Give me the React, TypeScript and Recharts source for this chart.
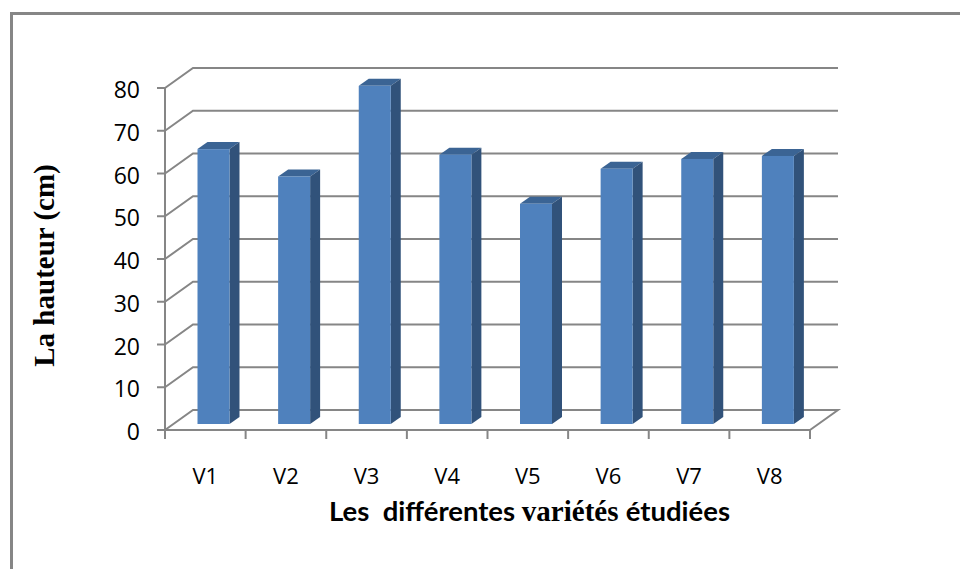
import { BarChart, Bar, XAxis, YAxis, CartesianGrid, Label } from 'recharts';

const categories = ['V1', 'V2', 'V3', 'V4', 'V5', 'V6', 'V7', 'V8'];
const hauteur = [64.3, 57.9, 79.1, 63, 51.5, 59.7, 62, 62.7];
const yTicks = [0, 10, 20, 30, 40, 50, 60, 70, 80];

const data = categories.map((name, i) => ({ name, hauteur: hauteur[i] }));

const WIDTH = 960;
const HEIGHT = 569;
const PLOT_LEFT = 165;
const PLOT_RIGHT = 810;
const PLOT_TOP = 88;
const PLOT_BOTTOM = 430;
const BAND = (PLOT_RIGHT - PLOT_LEFT) / categories.length;

// profondeur du mur du fond et position des barres dans cette profondeur
const WALL_DX = 28;
const WALL_DY = -20;
const BAR_SHIFT_X = 8.5;
const BAR_SHIFT_Y = -6;
const BAR_DX = 10;
const BAR_DY = -7;

const AXIS_COLOR = '#868686';

// ligne de grille: le long du mur de gauche puis du mur du fond
const renderGridLine = (props: any) => {
  const { x1, x2, y1, key } = props;
  const bx = x2 + WALL_DX;
  const by = y1 + WALL_DY;
  const isFloor = Math.abs(y1 - PLOT_BOTTOM) < 1;
  const points = [`${x1},${y1}`, `${x1 + WALL_DX},${by}`, `${bx},${by}`];
  if (isFloor) points.push(`${x2},${y1}`);
  return <polyline key={key} points={points.join(' ')} fill="none" stroke={AXIS_COLOR} strokeWidth={2} />;
};

// barre en 3D: face avant, dessus et côté
const Bar3D = (props: any) => {
  const { x, y, width, height } = props;
  const l = x + BAR_SHIFT_X;
  const t = y + BAR_SHIFT_Y;
  const r = l + width;
  const b = t + height;
  return (
    <g>
      <polygon
        points={`${l},${t} ${l + BAR_DX},${t + BAR_DY} ${r + BAR_DX},${t + BAR_DY} ${r},${t}`}
        fill="#3B6494"
      />
      <polygon
        points={`${r},${t} ${r + BAR_DX},${t + BAR_DY} ${r + BAR_DX},${b + BAR_DY} ${r},${b}`}
        fill="#31527A"
      />
      <rect x={l} y={t} width={width} height={height} fill="#4F81BD" />
    </g>
  );
};

const XTick = (props: any) => {
  const { x, y, payload, index } = props;
  const left = x - BAND / 2;
  return (
    <g>
      <line x1={left} y1={PLOT_BOTTOM} x2={left} y2={PLOT_BOTTOM + 9} stroke={AXIS_COLOR} strokeWidth={2} />
      {index === categories.length - 1 && (
        <line x1={x + BAND / 2} y1={PLOT_BOTTOM} x2={x + BAND / 2} y2={PLOT_BOTTOM + 9} stroke={AXIS_COLOR} strokeWidth={2} />
      )}
      <text x={x} y={y + 46} textAnchor="middle" fontFamily="Open Sans" fontSize={22} fill="#000">
        {payload.value}
      </text>
    </g>
  );
};

const XTitle = () => (
  <text x={329} y={521} fontFamily="Lato" fontWeight={700} fontSize={27.5} fill="#000" xmlSpace="preserve">
    <tspan>Les  différentes </tspan>
    <tspan fontFamily="Liberation Serif" fontSize={29}>variétés </tspan>
    <tspan>étudiées</tspan>
  </text>
);

const YTitle = () => (
  <text
    x={54}
    y={265.5}
    transform="rotate(-90 54 265.5)"
    textAnchor="middle"
    fontFamily="Liberation Serif"
    fontWeight={700}
    fontSize={29}
    fill="#000"
  >
    La hauteur (cm)
  </text>
);

export default function App() {
  return (
    <div style={{ position: 'absolute', left: 0, top: 0, width: WIDTH, height: HEIGHT, overflow: 'hidden', background: '#fff' }}>
      {/* cadre du graphique: seuls les bords haut et gauche sont visibles */}
      <div
        style={{
          position: 'absolute',
          left: 10,
          top: 12,
          width: WIDTH - 10,
          height: HEIGHT - 12,
          borderTop: `3px solid ${AXIS_COLOR}`,
          borderLeft: `3px solid ${AXIS_COLOR}`,
          boxSizing: 'border-box',
        }}
      />
      <BarChart
        width={WIDTH}
        height={HEIGHT}
        data={data}
        margin={{ top: PLOT_TOP, right: WIDTH - PLOT_RIGHT, bottom: HEIGHT - PLOT_BOTTOM - 60, left: PLOT_LEFT - 60 }}
        barSize={32}
        style={{ position: 'absolute', left: 0, top: 0 }}
      >
        <CartesianGrid vertical={false} horizontal={renderGridLine} />
        <XAxis
          dataKey="name"
          height={60}
          axisLine={{ stroke: AXIS_COLOR, strokeWidth: 2 }}
          tickLine={false}
          tick={<XTick />}
          interval={0}
        >
          <Label content={<XTitle />} />
        </XAxis>
        <YAxis
          width={60}
          domain={[0, 80]}
          ticks={yTicks}
          interval={0}
          axisLine={{ stroke: AXIS_COLOR, strokeWidth: 2 }}
          tickLine={{ stroke: AXIS_COLOR, strokeWidth: 2 }}
          tickSize={8}
          tickMargin={17}
          tick={{ fontFamily: 'Open Sans', fontSize: 23, fill: '#000', dy: 2 }}
        >
          <Label content={<YTitle />} />
        </YAxis>
        <Bar dataKey="hauteur" shape={<Bar3D />} isAnimationActive={false} />
      </BarChart>
    </div>
  );
}
